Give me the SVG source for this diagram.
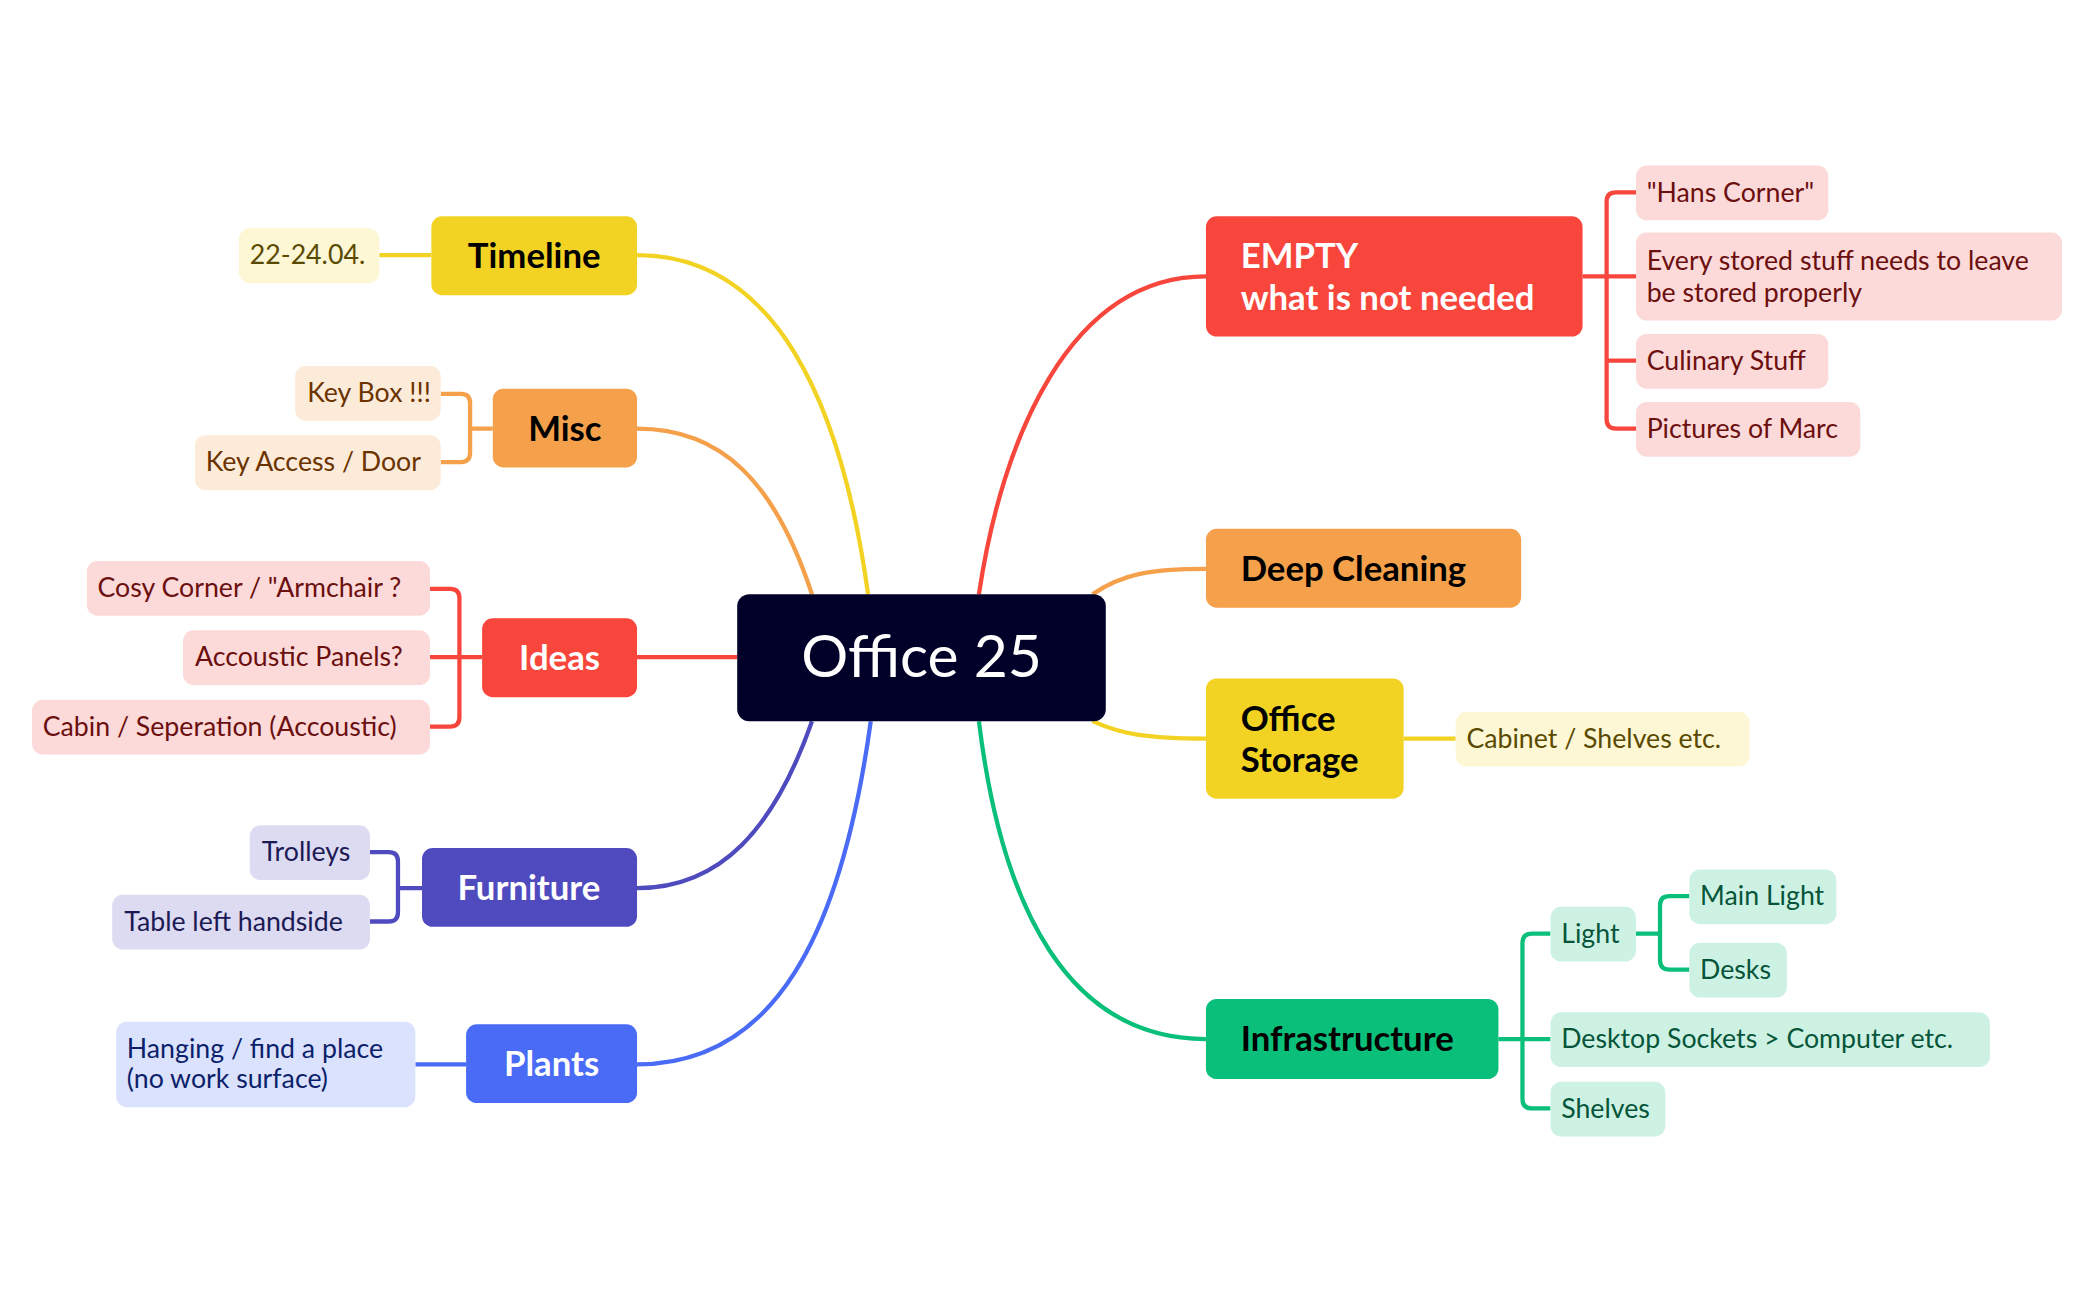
<svg xmlns="http://www.w3.org/2000/svg" width="2093" height="1300" viewBox="0 0 2093 1300">
<style>
text{font-family:Lato,"Noto Sans",sans-serif}
.c{fill:none;stroke-width:3.2}
.m{font-size:26px;font-weight:bold}
.s{font-size:20px}
</style>
<rect width="2093" height="1300" fill="#fff"/>
<g transform="scale(1.3355)">
<g id="connectors">
<path class="c" stroke="#f2d323" d="M650,445 C630,300 580,191 477,191 M323,191 H284"/>
<path class="c" stroke="#f5a04a" d="M608,445 C580,360 540,321 477,321 M369,321 H352 M330,295 H345 Q352,295 352,302 V339 Q352,346 345,346 H330"/>
<path class="c" stroke="#f8463c" d="M552,492 H477 M361,492 H322 M322,441 H337 Q344,441 344,448 V537 Q344,544 337,544 H322"/>
<path class="c" stroke="#4f4bbf" d="M608,540 C580,620 540,665 477,665 M316,665 H298 M277,638 H291 Q298,638 298,645 V683 Q298,690 291,690 H277"/>
<path class="c" stroke="#4a6bf5" d="M652,540 C630,700 580,797 477,797 M349,797 H311"/>
<path class="c" stroke="#f8463c" d="M733,445 C750,330 800,207 903,207 M1185,207 H1225 M1225,144 H1210 Q1203,144 1203,151 V314 Q1203,321 1210,321 H1225 M1203,270 H1225"/>
<path class="c" stroke="#f5a04a" d="M818,445 C840,430 860,426 903,426"/>
<path class="c" stroke="#f2d323" d="M818,540 C840,550 860,553 903,553 M1051,553 H1090"/>
<path class="c" stroke="#0abf7a" d="M733,540 C750,680 800,778 903,778 M1122,778 H1161 M1161,699 H1147 Q1140,699 1140,706 V823 Q1140,830 1147,830 H1161 M1225,699 H1243 M1265,671 H1250 Q1243,671 1243,678 V719 Q1243,726 1250,726 H1265"/>
</g>
<g id="center"><rect x="552" y="445" width="276" height="95" rx="9" fill="#000028"/><text x="690" y="507" font-size="44" fill="#fff" text-anchor="middle">Office 25</text></g>
<g id="empty"><rect x="903" y="162" width="282" height="90" rx="8" fill="#f8463c"/><text class="m" fill="#fff" x="929" y="201">EMPTY</text><text class="m" fill="#fff" x="929" y="232">what is not needed</text></g>
<g id="deep"><rect x="903" y="396" width="236" height="59" rx="8" fill="#f5a04a"/><text class="m" x="929" y="435">Deep Cleaning</text></g>
<g id="storage"><rect x="903" y="508" width="148" height="90" rx="8" fill="#f2d323"/><text class="m" x="929" y="547">Office</text><text class="m" x="929" y="578">Storage</text></g>
<g id="infra"><rect x="903" y="748" width="219" height="60" rx="8" fill="#0abf7a"/><text class="m" x="929" y="787">Infrastructure</text></g>
<g id="timeline"><rect x="323" y="162" width="154" height="59" rx="8" fill="#f2d323"/><text class="m" x="400" y="201" text-anchor="middle">Timeline</text></g>
<g id="misc"><rect x="369" y="291" width="108" height="59" rx="8" fill="#f5a04a"/><text class="m" x="423" y="330" text-anchor="middle">Misc</text></g>
<g id="ideas"><rect x="361" y="463" width="116" height="59" rx="8" fill="#f8463c"/><text class="m" fill="#fff" x="419" y="502" text-anchor="middle">Ideas</text></g>
<g id="furniture"><rect x="316" y="635" width="161" height="59" rx="8" fill="#4f4bbf"/><text class="m" fill="#fff" x="396" y="674" text-anchor="middle">Furniture</text></g>
<g id="plants"><rect x="349" y="767" width="128" height="59" rx="8" fill="#4a6bf5"/><text class="m" fill="#fff" x="413" y="806" text-anchor="middle">Plants</text></g>
<g id="t1"><rect x="179" y="171" width="105" height="41" rx="8" fill="#fdf7d6"/><text class="s" fill="#5a4a00" x="187" y="198">22-24.04.</text></g>
<g id="m1"><rect x="221" y="274" width="109" height="41" rx="8" fill="#fdebd9"/><text class="s" fill="#6b3300" x="230" y="301">Key Box !!!</text></g>
<g id="m2"><rect x="146" y="326" width="184" height="41" rx="8" fill="#fdebd9"/><text class="s" fill="#6b3300" x="154" y="353">Key Access / Door</text></g>
<g id="i1"><rect x="65" y="420" width="257" height="41" rx="8" fill="#fddada"/><text class="s" fill="#6b0f0f" x="73" y="447">Cosy Corner / "Armchair ?</text></g>
<g id="i2"><rect x="137" y="472" width="185" height="41" rx="8" fill="#fddada"/><text class="s" fill="#6b0f0f" x="146" y="499">Accoustic Panels?</text></g>
<g id="i3"><rect x="24" y="524" width="298" height="41" rx="8" fill="#fddada"/><text class="s" fill="#6b0f0f" x="32" y="551">Cabin / Seperation (Accoustic)</text></g>
<g id="f1"><rect x="187" y="618" width="90" height="41" rx="8" fill="#dcdbf1"/><text class="s" fill="#1c1a55" x="196" y="645">Trolleys</text></g>
<g id="f2"><rect x="84" y="670" width="193" height="41" rx="8" fill="#dcdbf1"/><text class="s" fill="#1c1a55" x="93" y="697">Table left handside</text></g>
<g id="p1"><rect x="87" y="765" width="224" height="64" rx="8" fill="#dbe2fd"/><text class="s" fill="#0b1f6b" x="95" y="792">Hanging / find a place</text><text class="s" fill="#0b1f6b" x="95" y="815">(no work surface)</text></g>
<g id="e1"><rect x="1225" y="124" width="144" height="41" rx="8" fill="#fddada"/><text class="s" fill="#6b0f0f" x="1233" y="151">"Hans Corner"</text></g>
<g id="e2"><rect x="1225" y="174" width="319" height="66" rx="8" fill="#fddada"/><text class="s" fill="#6b0f0f" x="1233" y="202">Every stored stuff needs to leave</text><text class="s" fill="#6b0f0f" x="1233" y="226">be stored properly</text></g>
<g id="e3"><rect x="1225" y="250" width="144" height="41" rx="8" fill="#fddada"/><text class="s" fill="#6b0f0f" x="1233" y="277">Culinary Stuff</text></g>
<g id="e4"><rect x="1225" y="301" width="168" height="41" rx="8" fill="#fddada"/><text class="s" fill="#6b0f0f" x="1233" y="328">Pictures of Marc</text></g>
<g id="s1"><rect x="1090" y="533" width="220" height="41" rx="8" fill="#fdf7d6"/><text class="s" fill="#5a4a00" x="1098" y="560">Cabinet / Shelves etc.</text></g>
<g id="n1"><rect x="1161" y="679" width="64" height="41" rx="8" fill="#cdf2e3"/><text class="s" fill="#06553a" x="1169" y="706">Light</text></g>
<g id="n2"><rect x="1265" y="651" width="110" height="41" rx="8" fill="#cdf2e3"/><text class="s" fill="#06553a" x="1273" y="678">Main Light</text></g>
<g id="n3"><rect x="1265" y="706" width="73" height="41" rx="8" fill="#cdf2e3"/><text class="s" fill="#06553a" x="1273" y="733">Desks</text></g>
<g id="n4"><rect x="1161" y="758" width="329" height="41" rx="8" fill="#cdf2e3"/><text class="s" fill="#06553a" x="1169" y="785">Desktop Sockets &gt; Computer etc.</text></g>
<g id="n5"><rect x="1161" y="810" width="86" height="41" rx="8" fill="#cdf2e3"/><text class="s" fill="#06553a" x="1169" y="837">Shelves</text></g>
</g>
</svg>
